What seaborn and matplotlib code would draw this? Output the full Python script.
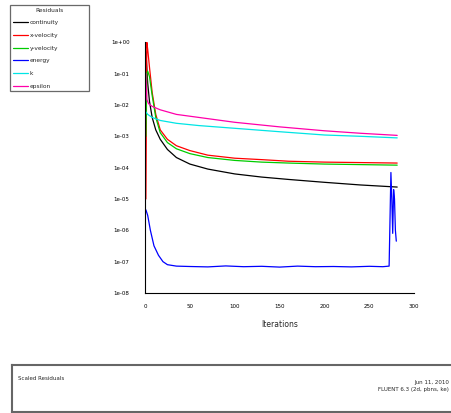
import numpy as np
import pandas as pd
import matplotlib
matplotlib.use("Agg")
import matplotlib.pyplot as plt
import matplotlib.ticker as mticker
import seaborn as sns

# residual history (iteration, residual)
cont_it = [1, 2, 3, 5, 8, 12, 17, 25, 35, 50, 70, 100, 130, 160, 200, 240, 281]
cont_val = [5e-1, 1.6e-1, 5e-2, 1.3e-2, 4e-3, 1.6e-3, 8e-4, 3.8e-4, 2.1e-4, 1.3e-4,
            9e-5, 6.3e-5, 5e-5, 4.2e-5, 3.4e-5, 2.8e-5, 2.4e-5]

xvel_it = [1, 2, 3, 5, 8, 12, 17, 25, 35, 50, 70, 100, 130, 160, 200, 240, 281]
xvel_val = [1e-5, 1.0, 6e-1, 1.6e-1, 2.5e-2, 5e-3, 1.6e-3, 8e-4, 5e-4, 3.5e-4,
            2.5e-4, 2e-4, 1.8e-4, 1.6e-4, 1.5e-4, 1.45e-4, 1.4e-4]

yvel_it = [1, 2, 3, 5, 8, 12, 17, 25, 35, 50, 70, 100, 130, 160, 200, 240, 281]
yvel_val = [1e-3, 1e-1, 1.2e-1, 8e-2, 2e-2, 4e-3, 1.3e-3, 6.3e-4, 4e-4, 2.8e-4,
            2.1e-4, 1.7e-4, 1.5e-4, 1.4e-4, 1.3e-4, 1.25e-4, 1.2e-4]

energy_it = [1, 3, 6, 10, 15, 20, 25, 35, 50, 70, 90, 110, 130, 150, 170, 190,
             210, 230, 250, 265, 272, 274, 275, 276, 277, 278, 279, 280]
energy_val = [4.5e-6, 3e-6, 1e-6, 3.2e-7, 1.6e-7, 1e-7, 8e-8, 7.2e-8, 7e-8, 6.8e-8,
              7.3e-8, 6.9e-8, 7.1e-8, 6.7e-8, 7.2e-8, 6.9e-8, 7e-8, 6.8e-8,
              7.1e-8, 6.9e-8, 7.2e-8, 7e-5, 1e-5, 8e-7, 2e-5, 1e-5, 1e-6, 4.5e-7]

k_it = [1, 3, 8, 17, 35, 60, 100, 150, 200, 240, 281]
k_val = [6e-3, 5e-3, 4e-3, 3.2e-3, 2.6e-3, 2.2e-3, 1.8e-3, 1.4e-3, 1.1e-3, 1e-3, 8.9e-4]

eps_it = [1, 2, 4, 8, 17, 35, 60, 100, 150, 200, 240, 281]
eps_val = [1e-1, 1.5e-2, 1.1e-2, 9e-3, 7e-3, 5e-3, 4e-3, 2.8e-3, 2e-3, 1.5e-3, 1.25e-3, 1.07e-3]

names = ["continuity", "x-velocity", "y-velocity", "energy", "k", "epsilon"]
colors = ["#000000", "#ff0000", "#00cc00", "#0000ff", "#00e5e5", "#ff00aa"]

frames = []
for name, it, val in zip(names,
                         [cont_it, xvel_it, yvel_it, energy_it, k_it, eps_it],
                         [cont_val, xvel_val, yvel_val, energy_val, k_val, eps_val]):
    frames.append(pd.DataFrame({"Iterations": it, "Residual": val, "series": name}))
df = pd.concat(frames, ignore_index=True)

sns.set_style("white")
fig = plt.figure(figsize=(4.51, 4.13), dpi=100)
ax = fig.add_axes([0.3215, 0.2906, 0.597, 0.607])

sns.lineplot(data=df, x="Iterations", y="Residual", hue="series", hue_order=names,
             palette=colors, estimator=None, sort=False, linewidth=0.9, ax=ax,
             legend=False)

ax.set_yscale("log")
ax.set_ylim(1e-8, 1)
ax.set_xlim(0, 300)
ax.set_xticks([0, 50, 100, 150, 200, 250, 300])
ax.xaxis.set_minor_locator(mticker.MultipleLocator(25))
ax.yaxis.set_major_locator(mticker.LogLocator(base=10, numticks=20))
ax.yaxis.set_minor_locator(mticker.LogLocator(base=10, subs=np.arange(2, 10), numticks=20))
ax.yaxis.set_major_formatter(mticker.FuncFormatter(
    lambda v, p: "1e%+03d" % int(round(np.log10(v)))))
ax.yaxis.set_minor_formatter(mticker.NullFormatter())
ax.tick_params(axis="both", which="major", labelsize=4, length=3, width=0.7,
               direction="in", colors="black")
ax.tick_params(axis="y", which="major", pad=11)
ax.tick_params(axis="x", which="major", pad=8)
ax.tick_params(axis="both", which="minor", length=1.5, width=0.5, direction="in")
for s in ["top", "right"]:
    ax.spines[s].set_visible(False)
for s in ["left", "bottom"]:
    ax.spines[s].set_color("black")
    ax.spines[s].set_linewidth(0.8)
ax.set_xlabel("Iterations", fontsize=5.5, labelpad=8)
ax.set_ylabel("")

# legend box top-left
handles = [plt.Line2D([], [], color=c, lw=0.9) for c in colors]
leg = fig.legend(handles, names, title="Residuals", loc="upper left",
                 bbox_to_anchor=(10 / 451, 1 - 88 / 413, 79 / 451, 83 / 413),
                 mode="expand", borderaxespad=0, fontsize=4.2, title_fontsize=4.2,
                 handlelength=2.6, handletextpad=0.3, labelspacing=1.3,
                 borderpad=0.45, frameon=True, fancybox=False)
leg.get_frame().set_edgecolor("#444444")
leg.get_frame().set_linewidth(0.9)

# bottom info panel
info = fig.add_axes([0.027, 0.003, 1.0, 0.114])
info.set_xticks([])
info.set_yticks([])
for s in info.spines.values():
    s.set_color("#666666")
    s.set_linewidth(1.5)
fig.text(0.04, 0.083, "Scaled Residuals", fontsize=4, ha="left", va="center")
fig.text(0.996, 0.075, "Jun 11, 2010", fontsize=4, ha="right", va="center")
fig.text(0.996, 0.056, "FLUENT 6.3 (2d, pbns, ke)", fontsize=4, ha="right", va="center")

fig.savefig("out.png", dpi=100)
